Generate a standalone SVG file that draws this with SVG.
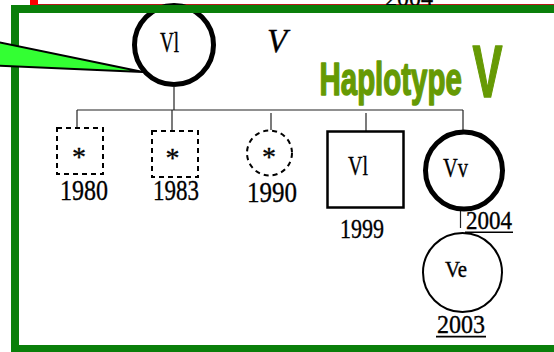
<svg xmlns="http://www.w3.org/2000/svg" width="554" height="352" viewBox="0 0 554 352">
  <style>
    .serif { font-family: "Liberation Serif", "Times New Roman", serif; fill: #000; stroke: #000; stroke-width: 0.35; }
    .yr { font-size: 30px; }
    .ast { font-size: 28px; text-anchor: middle; }
    .link { stroke: #222; stroke-width: 1.2; fill: none; }
    .solid { fill: #fff; stroke: #000; }
    .dashed { fill: #fff; stroke: #000; stroke-width: 2; stroke-dasharray: 5 4; }
    .uline { stroke: #000; stroke-width: 1.6; }
    .title { font-family: "Liberation Sans", "DejaVu Sans Condensed", Arial, sans-serif; font-weight: bold; fill: #669a04; stroke: #669a04; stroke-width: 1.6; stroke-linejoin: round; }
  </style>

  <rect x="0" y="0" width="554" height="352" fill="#fff"/>

  <!-- red margin marks along the top edge -->
  <rect x="30" y="0" width="8" height="6" fill="#ff0000"/>
  <line x1="38" y1="4.6" x2="554" y2="4.6" stroke="#b00000" stroke-width="1"/>

  <!-- partly hidden year label above the frame -->
  <text class="serif" x="385" y="6" font-size="26" textLength="48" lengthAdjust="spacingAndGlyphs">2004</text>

  <!-- parent node (sits under the frame edge) -->
  <g id="node-parent">
    <circle cx="174" cy="45" r="39.5" class="solid" stroke-width="5"/>
    <text class="serif" x="160" y="52" font-size="29" textLength="19" lengthAdjust="spacingAndGlyphs">Vl</text>
  </g>

  <!-- frame -->
  <rect x="15" y="9" width="570" height="340" fill="none" stroke="#0a7f0a" stroke-width="8"/>

  <!-- callout pointer -->
  <polygon points="-6,41.3 143,72 -6,65.4" fill="#33ff33" stroke="#000" stroke-width="2"/>

  <!-- headings -->
  <text class="serif" x="267" y="52" font-size="33" font-style="italic" stroke-width="0.2">V</text>
  <text class="title" transform="translate(319.5 95) scale(0.64 1)" font-size="46">Haplotype</text>
  <text class="title" transform="translate(472.5 97) scale(0.6 1)" font-size="75">V</text>

  <!-- connectors -->
  <g id="connectors">
    <line class="link" x1="174" y1="86" x2="174" y2="110"/>
    <line class="link" x1="77" y1="110" x2="463" y2="110"/>
    <line class="link" x1="77" y1="110" x2="77" y2="128"/>
    <line class="link" x1="172" y1="110" x2="172" y2="132"/>
    <line class="link" x1="271" y1="113" x2="271" y2="130"/>
    <line class="link" x1="366" y1="113" x2="366" y2="132"/>
    <line class="link" x1="463" y1="110" x2="463" y2="130"/>
    <line class="link" x1="460.5" y1="211" x2="460.5" y2="228"/>
  </g>

  <!-- children -->
  <g id="node-1980">
    <rect x="57" y="128" width="46" height="46" class="dashed"/>
    <text class="serif ast" x="79" y="166">*</text>
    <text class="serif yr" x="60" y="200" textLength="48" lengthAdjust="spacingAndGlyphs">1980</text>
  </g>

  <g id="node-1983">
    <rect x="152" y="131" width="46" height="46" class="dashed"/>
    <text class="serif ast" x="172.5" y="167">*</text>
    <text class="serif yr" x="153" y="200" textLength="46" lengthAdjust="spacingAndGlyphs">1983</text>
  </g>

  <g id="node-1990">
    <circle cx="269.5" cy="153" r="22.5" class="dashed" stroke-dasharray="6 5"/>
    <text class="serif ast" x="269" y="166">*</text>
    <text class="serif yr" x="247" y="202" textLength="50" lengthAdjust="spacingAndGlyphs">1990</text>
  </g>

  <g id="node-1999">
    <rect x="327.5" y="131.5" width="76" height="76" class="solid" stroke-width="2.5"/>
    <text class="serif" x="348" y="175" font-size="27" textLength="20" lengthAdjust="spacingAndGlyphs">Vl</text>
    <text class="serif" x="340" y="238" font-size="28" textLength="44" lengthAdjust="spacingAndGlyphs">1999</text>
  </g>

  <g id="node-2004">
    <circle cx="464" cy="170.5" r="38.5" class="solid" stroke-width="5"/>
    <text class="serif" x="443" y="177" font-size="27" textLength="25" lengthAdjust="spacingAndGlyphs">Vv</text>
    <text class="serif" x="466" y="229" font-size="26" textLength="46" lengthAdjust="spacingAndGlyphs">2004</text>
    <line class="uline" x1="465" y1="232.3" x2="513" y2="232.3"/>
  </g>

  <g id="node-2003">
    <circle cx="462.5" cy="272.5" r="39.5" class="solid" stroke-width="2"/>
    <text class="serif" x="445" y="277" font-size="24" textLength="22" lengthAdjust="spacingAndGlyphs">Ve</text>
    <text class="serif" x="437" y="333" font-size="26" textLength="48" lengthAdjust="spacingAndGlyphs">2003</text>
    <line class="uline" x1="436" y1="336.6" x2="486" y2="336.6"/>
  </g>
</svg>
